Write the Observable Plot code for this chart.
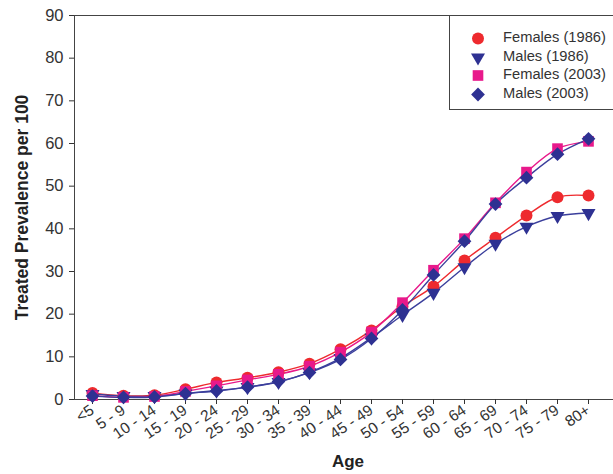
<!DOCTYPE html>
<html>
<head>
<meta charset="utf-8">
<script src="https://cdn.jsdelivr.net/npm/d3@7"></script>
<script src="https://cdn.jsdelivr.net/npm/@observablehq/plot@0.6"></script>
<style>
  html, body { margin: 0; padding: 0; background: #fff; }
  #wrap { position: relative; width: 613px; height: 474px; overflow: hidden; font-family: "Liberation Sans", Arial, sans-serif; }
  #legend { position: absolute; left: 449px; top: 15px; width: 180px; height: 95px; border: 1px solid #444; box-sizing: border-box; background: #fff; }
  .item { position: absolute; left: 0; height: 19px; width: 180px; font-size: 14.7px; color: #333; }
  .item svg { position: absolute; left: 19px; top: 0; }
  .item span { position: absolute; left: 53px; top: 0px; white-space: nowrap; line-height: 17px; }
</style>
</head>
<body>
<div id="wrap"><div id="legend"></div></div>
<script>
const ages = ["<5","5 - 9","10 - 14","15 - 19","20 - 24","25 - 29","30 - 34","35 - 39","40 - 44","45 - 49","50 - 54","55 - 59","60 - 64","65 - 69","70 - 74","75 - 79","80+"];
const females1986 = [1.5, 0.9, 1.0, 2.4, 4.0, 5.1, 6.4, 8.4, 11.8, 16.2, 21.8, 26.5, 32.6, 37.9, 43.1, 47.4, 47.8];
const males1986   = [1.3, 0.8, 0.8, 1.4, 2.1, 2.9, 4.1, 6.4, 9.7, 14.5, 19.8, 25.0, 31.0, 36.5, 40.5, 43.0, 43.7];
const females2003 = [0.9, 0.5, 0.7, 1.9, 3.2, 4.6, 5.9, 7.8, 11.1, 15.8, 22.7, 30.3, 37.7, 46.1, 53.3, 58.8, 60.5];
const males2003   = [0.8, 0.5, 0.6, 1.4, 2.0, 2.9, 4.2, 6.3, 9.4, 14.3, 21.0, 29.2, 37.1, 45.8, 52.0, 57.5, 61.1];
const yTicks = [0, 10, 20, 30, 40, 50, 60, 70, 80, 90];
const seriesNames = ["Females (1986)", "Males (1986)", "Females (2003)", "Males (2003)"];
const seriesColors = ["#ee2a2e", "#2e3192", "#e8198b", "#2e3192"];
const lineColors = ["#ee2a2e", "#3b3f9c", "#e8198b", "#3b3f9c"];
const seriesSymbols = ["circle", "triangle", "square", "diamond2"];
const seriesRotate = [0, 180, 0, 0];
const seriesR = [6, 5.2, 6, 6.2];
const seriesValues = [females1986, males1986, females2003, males2003];

const rows = [];
seriesNames.forEach((s, i) => ages.forEach((a, j) => rows.push({series: s, idx: i, age: a, value: seriesValues[i][j]})));

const marks = [
  Plot.frame({anchor: "left", stroke: "#444"}),
  Plot.frame({anchor: "bottom", stroke: "#444"}),
  Plot.frame({anchor: "top", stroke: "#444"}),
  Plot.axisY({ticks: yTicks, tickSize: 5, tickPadding: 6, fontSize: 16.5, color: "#333", label: null}),
  Plot.axisX({tickSize: 5, tickPadding: 4, tickRotate: -34, fontSize: 15.5, color: "#333", label: null}),
  Plot.text(["Treated Prevalence per 100"], {frameAnchor: "left", textAnchor: "middle", dx: -52, rotate: -90, fontSize: 17.5, fontWeight: "bold", fill: "#222"}),
  Plot.text(["Age"], {frameAnchor: "bottom", dy: 67, dx: 4, fontSize: 17, fontWeight: "bold", fill: "#222"})
];
seriesNames.forEach((s, i) => {
  const d = rows.filter(r => r.idx === i);
  marks.push(Plot.line(d, {x: "age", y: "value", stroke: lineColors[i], strokeWidth: 1.4, curve: "catmull-rom"}));
});
seriesNames.forEach((s, i) => {
  const d = rows.filter(r => r.idx === i);
  marks.push(Plot.dot(d, {x: "age", y: "value", symbol: () => seriesSymbols[i], fill: seriesColors[i], stroke: "none", r: seriesR[i], rotate: seriesRotate[i]}));
});

const chart = Plot.plot({
  width: 613,
  height: 474,
  marginLeft: 74,
  marginRight: 0,
  marginTop: 15,
  marginBottom: 75,
  style: {fontFamily: "'Liberation Sans', Arial, sans-serif", background: "#fff"},
  x: {type: "point", domain: ages, range: [89.6, 590.4], padding: 0},
  y: {domain: [0, 90], ticks: yTicks},
  symbol: {type: "identity"},
  marks
});
const wrap = document.getElementById("wrap");
wrap.insertBefore(chart, wrap.firstChild);

const legend = document.getElementById("legend");
const rowY = [22, 41, 59.5, 78.5];
seriesNames.forEach((s, i) => {
  const item = document.createElement("div");
  item.className = "item";
  item.style.top = (rowY[i] - 9.5) + "px";
  const sym = d3.symbol(i === 0 ? d3.symbolCircle : i === 1 ? d3.symbolTriangle : i === 2 ? d3.symbolSquare : d3.symbolDiamond2, Math.PI * seriesR[i] * seriesR[i])();
  item.innerHTML = `<svg width="18" height="19" viewBox="-9 -9.5 18 19"><path d="${sym}" fill="${seriesColors[i]}" transform="rotate(${seriesRotate[i]})"/></svg><span>${s}</span>`;
  legend.appendChild(item);
});
</script>
</body>
</html>
